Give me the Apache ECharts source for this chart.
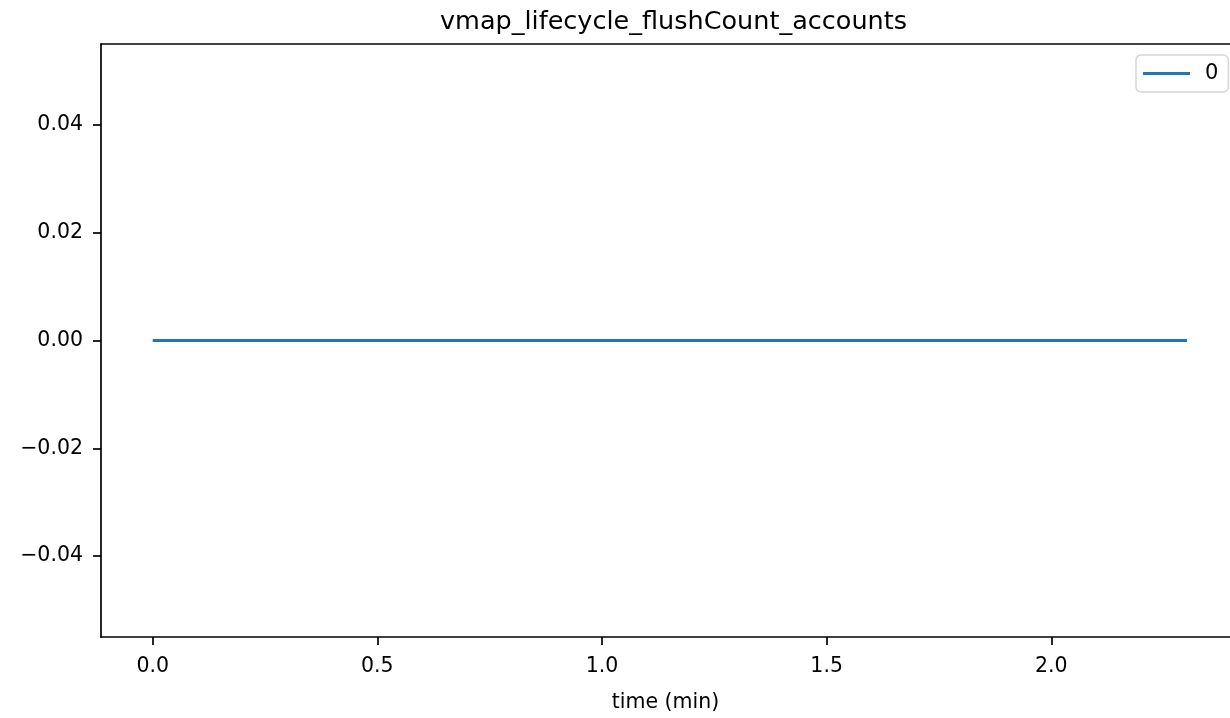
<!DOCTYPE html>
<html>
<head>
<meta charset="utf-8">
<script src="https://cdn.jsdelivr.net/npm/echarts@6/dist/echarts.min.js"></script>
<style>
html,body{margin:0;padding:0;background:#fff;overflow:hidden;}
#chart{width:1230px;height:718px;}
</style>
</head>
<body>
<div id="chart"></div>
<script>
const chartTitle = 'vmap_lifecycle_flushCount_accounts';
const seriesName = '0';
const timeMin = [0, 2.302];
const values = [0, 0];
const xTicks = [0, 0.5, 1.0, 1.5, 2.0];
const yTicks = [-0.04, -0.02, 0, 0.02, 0.04];

const fontFamily = '"DejaVu Sans", sans-serif';
const fmtMinus = (s) => s.replace('-', '\u2212');
const X_MIN = -0.1151, X_MAX = 2.3977;

const chart = echarts.init(document.getElementById('chart'), null, {renderer: 'canvas'});
chart.setOption({
  backgroundColor: '#ffffff',
  animation: false,
  textStyle: {fontFamily: fontFamily},
  title: {
    text: chartTitle,
    left: 668.5,
    textAlign: 'center',
    top: 4,
    textStyle: {fontFamily: fontFamily, fontSize: 25.5, fontWeight: 'normal', color: '#000'}
  },
  legend: {
    data: [seriesName],
    left: 1136,
    top: 55,
    orient: 'vertical',
    padding: [8, 10, 8, 7],
    itemWidth: 47,
    itemHeight: 3,
    icon: 'rect',
    backgroundColor: '#fff',
    borderColor: '#d6d6d6',
    borderWidth: 1.5,
    borderRadius: 5,
    textStyle: {fontFamily: fontFamily, fontSize: 21, color: '#000', padding: [0, 0, 0, 10]}
  },
  grid: {
    left: 101,
    top: 44,
    right: 0,
    bottom: 75,
    show: false,
    containLabel: false
  },
  xAxis: [{
    type: 'value',
    min: X_MIN,
    max: X_MAX,
    name: 'time (min)',
    nameLocation: 'middle',
    nameGap: 55,
    nameTextStyle: {fontFamily: fontFamily, fontSize: 20.5, color: '#000'},
    splitLine: {show: false},
    axisLine: {show: true, onZero: false, lineStyle: {color: '#000', width: 1.7}},
    axisTick: {show: true, inside: false, length: 8, customValues: xTicks, lineStyle: {color: '#000', width: 1.7}},
    axisLabel: {
      customValues: xTicks,
      margin: 19,
      fontFamily: fontFamily, fontSize: 20.5, color: '#000',
      formatter: (v) => fmtMinus(v.toFixed(1))
    }
  }, {
    type: 'value',
    position: 'top',
    min: X_MIN,
    max: X_MAX,
    splitLine: {show: false},
    axisLine: {show: true, onZero: false, lineStyle: {color: '#000', width: 1.7}},
    axisTick: {show: false},
    axisLabel: {show: false}
  }],
  yAxis: {
    type: 'value',
    min: -0.055,
    max: 0.055,
    splitLine: {show: false},
    axisLine: {show: true, onZero: false, lineStyle: {color: '#000', width: 1.7}},
    axisTick: {show: true, inside: false, length: 8, customValues: yTicks, lineStyle: {color: '#000', width: 1.7}},
    axisLabel: {
      customValues: yTicks,
      margin: 18,
      fontFamily: fontFamily, fontSize: 20.5, color: '#000',
      formatter: (v) => fmtMinus(v.toFixed(2))
    }
  },
  series: [{
    name: seriesName,
    type: 'line',
    xAxisIndex: 0,
    data: timeMin.map((t, i) => [t, values[i]]),
    showSymbol: false,
    symbol: 'none',
    lineStyle: {color: '#1f77b4', width: 3.1},
    itemStyle: {color: '#1f77b4'}
  }]
});
</script>
</body>
</html>
